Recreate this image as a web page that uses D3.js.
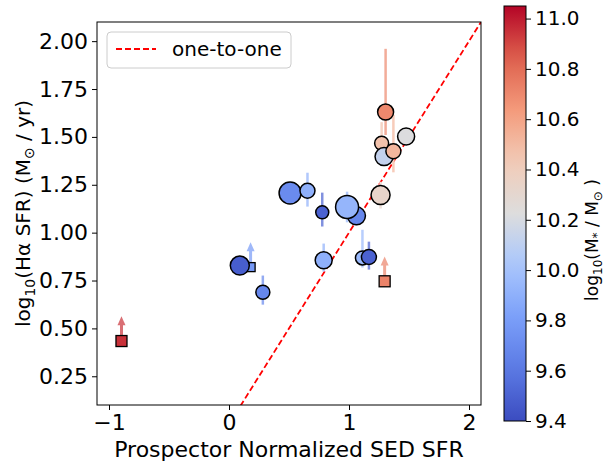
<!DOCTYPE html>
<html>
<head>
<meta charset="utf-8">
<script src="https://cdn.jsdelivr.net/npm/d3@7"></script>
<style>
  body { margin: 0; background: #fff; }
  svg { font-family: "DejaVu Sans", sans-serif; }
</style>
</head>
<body>
<svg id="chart"></svg>
<script>
// circles: detections
const sedSfr = [0.509, 0.654, 0.777, 1.062, 0.984, 1.263, 1.272, 1.292, 1.370, 1.476, 1.305, 0.789, 1.112, 1.166, 0.09, 0.282];
const haSfr = [1.207, 1.219, 1.106, 1.088, 1.134, 1.196, 1.467, 1.397, 1.425, 1.502, 1.630, 0.856, 0.868, 0.873, 0.828, 0.689];
const logMass = [9.70, 9.90, 9.50, 9.68, 9.93, 10.33, 10.47, 10.12, 10.52, 10.22, 10.70, 9.90, 9.95, 9.50, 9.48, 9.68];
const markerRadius = [11, 7.5, 6.5, 9, 11.5, 9.5, 7, 9, 7.5, 8.5, 8, 8.5, 7, 7.5, 9.5, 7];
const errLow = [0, 0.083, 0.074, 0.05, 0.08, 0.07, 0.06, 0.05, 0.11, 0, 0.12, 0.059, 0.05, 0.066, 0, 0.065];
const errHigh = [0, 0.094, 0.103, 0.05, 0.08, 0.07, 0.11, 0.05, 0.19, 0, 0.33, 0.087, 0.147, 0.08, 0, 0.087];

// squares: lower limits
const limSed = [-0.896, 0.18, 1.297];
const limHa = [0.434, 0.82, 0.746];
const limMass = [10.95, 9.78, 10.72];
const limSide = [9, 7, 9];
const limArrow = [0.13, 0.13, 0.13];

const xTicks = [-1, 0, 1, 2];
const yTicks = [0.25, 0.5, 0.75, 1.0, 1.25, 1.5, 1.75, 2.0];
const cTicks = [9.4, 9.6, 9.8, 10.0, 10.2, 10.4, 10.6, 10.8, 11.0];

const size = { width: 605, height: 462 };
const margin = { left: 97, right: 124, top: 22, bottom: 57 };
const cbar = { x: 504, w: 22, top: 6, bottom: 421 };

const svg = d3.select("#chart").attr("width", size.width).attr("height", size.height);

const x = d3.scaleLinear().domain([-1.1, 2.1]).range([margin.left, size.width - margin.right]);
const y = d3.scaleLinear().domain([0.1, 2.1]).range([size.height - margin.bottom, margin.top]);

// coolwarm
const cwStops = ["#3b4cc0", "#5b7ae4", "#7b9ff9", "#a9c6fd", "#dddddd", "#f2cbb7", "#f49a7b", "#de604d", "#b40426"];
const cw = d3.scaleLinear().domain(d3.range(cwStops.length).map((i) => i / (cwStops.length - 1)))
  .range(cwStops).interpolate(d3.interpolateRgb);
const cNorm = d3.scaleLinear().domain([9.4, 11.05]).range([0, 1]).clamp(true);
const color = (m) => cw(cNorm(m));
const light = (m) => {
  const c = d3.rgb(color(m));
  const a = 0.7;
  return d3.rgb(255 - a * (255 - c.r), 255 - a * (255 - c.g), 255 - a * (255 - c.b)).formatHex();
};

// clip
svg.append("clipPath").attr("id", "clip").append("rect")
  .attr("x", margin.left).attr("y", margin.top)
  .attr("width", x.range()[1] - margin.left).attr("height", y.range()[0] - margin.top);

const plot = svg.append("g").attr("clip-path", "url(#clip)");

// one-to-one line
plot.append("line")
  .attr("x1", x(-1.1)).attr("y1", y(-1.1))
  .attr("x2", x(2.1)).attr("y2", y(2.1))
  .attr("stroke", "red").attr("stroke-width", 1.8)
  .attr("stroke-dasharray", "6,3");

// error bars
sedSfr.forEach((d, i) => {
  if (errLow[i] + errHigh[i] === 0) return;
  plot.append("line")
    .attr("x1", x(d)).attr("x2", x(d))
    .attr("y1", y(haSfr[i] - errLow[i])).attr("y2", y(haSfr[i] + errHigh[i]))
    .attr("stroke", light(logMass[i])).attr("stroke-width", 2.5);
});

// limit arrows
limSed.forEach((d, i) => {
  const px = x(d);
  const tip = y(limHa[i] + limArrow[i]);
  const c = light(limMass[i]);
  plot.append("line")
    .attr("x1", px).attr("x2", px)
    .attr("y1", y(limHa[i])).attr("y2", tip + 5)
    .attr("stroke", c).attr("stroke-width", 3);
  plot.append("path")
    .attr("d", `M${px},${tip} L${px - 4},${tip + 9} L${px + 4},${tip + 9} Z`)
    .attr("fill", c);
});

// squares
plot.selectAll("rect.lim")
  .data(limSed)
  .enter()
  .append("rect")
  .attr("class", "lim")
  .attr("x", (d, i) => x(d) - limSide[i] / 2 - 1)
  .attr("y", (d, i) => y(limHa[i]) - limSide[i] / 2 - 1)
  .attr("width", (d, i) => limSide[i] + 2)
  .attr("height", (d, i) => limSide[i] + 2)
  .attr("fill", (d, i) => color(limMass[i]))
  .attr("stroke", "black").attr("stroke-width", 1.3);

// circles
plot.selectAll("circle.det")
  .data(sedSfr)
  .enter()
  .append("circle")
  .attr("class", "det")
  .attr("cx", (d) => x(d))
  .attr("cy", (d, i) => y(haSfr[i]))
  .attr("r", (d, i) => markerRadius[i])
  .attr("fill", (d, i) => color(logMass[i]))
  .attr("stroke", "black").attr("stroke-width", 1.5);

// axes
const xAxis = svg.append("g")
  .attr("transform", `translate(0, ${y.range()[0]})`)
  .call(d3.axisBottom(x).tickValues(xTicks).tickSize(5).tickPadding(4).tickFormat((d) => d3.format("d")(d).replace("-", "\u2212")));
const yAxis = svg.append("g")
  .attr("transform", `translate(${margin.left}, 0)`)
  .call(d3.axisLeft(y).tickValues(yTicks).tickSize(5).tickPadding(4).tickFormat(d3.format(".2f")));
[xAxis, yAxis].forEach((g) => {
  g.select(".domain").remove();
  g.selectAll("text").attr("font-size", 22).attr("fill", "black").attr("font-family", "DejaVu Sans");
  g.selectAll("line").attr("stroke", "black").attr("stroke-width", 1);
});

svg.append("rect")
  .attr("x", margin.left).attr("y", margin.top)
  .attr("width", x.range()[1] - margin.left).attr("height", y.range()[0] - margin.top)
  .attr("fill", "none").attr("stroke", "black").attr("stroke-width", 1);

// legend
const leg = svg.append("g");
leg.append("rect").attr("x", 107).attr("y", 32).attr("width", 184).attr("height", 36).attr("rx", 4)
  .attr("fill", "white").attr("fill-opacity", 0.8).attr("stroke", "#cccccc").attr("stroke-width", 1);
leg.append("line").attr("x1", 116).attr("x2", 156).attr("y1", 49).attr("y2", 49)
  .attr("stroke", "red").attr("stroke-width", 1.8).attr("stroke-dasharray", "6,3");
leg.append("text").attr("x", 172).attr("y", 56).attr("font-size", 20).text("one-to-one");

// axis labels
svg.append("text")
  .attr("x", (margin.left + x.range()[1]) / 2).attr("y", 457)
  .attr("text-anchor", "middle").attr("font-size", 22)
  .text("Prospector Normalized SED SFR");

const yl = svg.append("text")
  .attr("transform", `translate(30, ${(margin.top + y.range()[0]) / 2}) rotate(-90)`)
  .attr("text-anchor", "middle").attr("font-size", 20);
yl.append("tspan").text("log");
yl.append("tspan").attr("font-size", 14).attr("dy", 5).text("10");
yl.append("tspan").attr("dy", -5).text("(H\u03b1 SFR) (M");
yl.append("tspan").attr("font-size", 14).attr("dy", 4).text("\u2299");
yl.append("tspan").attr("dy", -4).text(" / yr)");

// colorbar
const defs = svg.append("defs");
const grad = defs.append("linearGradient").attr("id", "cwgrad")
  .attr("x1", 0).attr("y1", 1).attr("x2", 0).attr("y2", 0);
d3.range(0, 1.0001, 0.05).forEach((t) => {
  grad.append("stop").attr("offset", t).attr("stop-color", cw(t));
});
svg.append("rect")
  .attr("x", cbar.x).attr("y", cbar.top).attr("width", cbar.w).attr("height", cbar.bottom - cbar.top)
  .attr("fill", "url(#cwgrad)").attr("stroke", "black").attr("stroke-width", 1);

const cy = d3.scaleLinear().domain([9.4, 11.05]).range([cbar.bottom, cbar.top]);
const cAxis = svg.append("g")
  .attr("transform", `translate(${cbar.x + cbar.w}, 0)`)
  .call(d3.axisRight(cy).tickValues(cTicks).tickSize(5).tickPadding(4).tickFormat(d3.format(".1f")));
cAxis.select(".domain").remove();
cAxis.selectAll("text").attr("font-size", 20).attr("fill", "black").attr("font-family", "DejaVu Sans");
cAxis.selectAll("line").attr("stroke", "black");

const cl = svg.append("text")
  .attr("transform", `translate(598, 240) rotate(-90)`)
  .attr("text-anchor", "middle").attr("font-size", 17);
cl.append("tspan").text("log");
cl.append("tspan").attr("font-size", 12).attr("dy", 4).text("10");
cl.append("tspan").attr("dy", -4).text("(M");
cl.append("tspan").attr("font-size", 12).attr("dy", 3).text("*");
cl.append("tspan").attr("dy", -3).text(" / M");
cl.append("tspan").attr("font-size", 12).attr("dy", 4).text("\u2299");
cl.append("tspan").attr("dy", -4).text(" )");
</script>
</body>
</html>
